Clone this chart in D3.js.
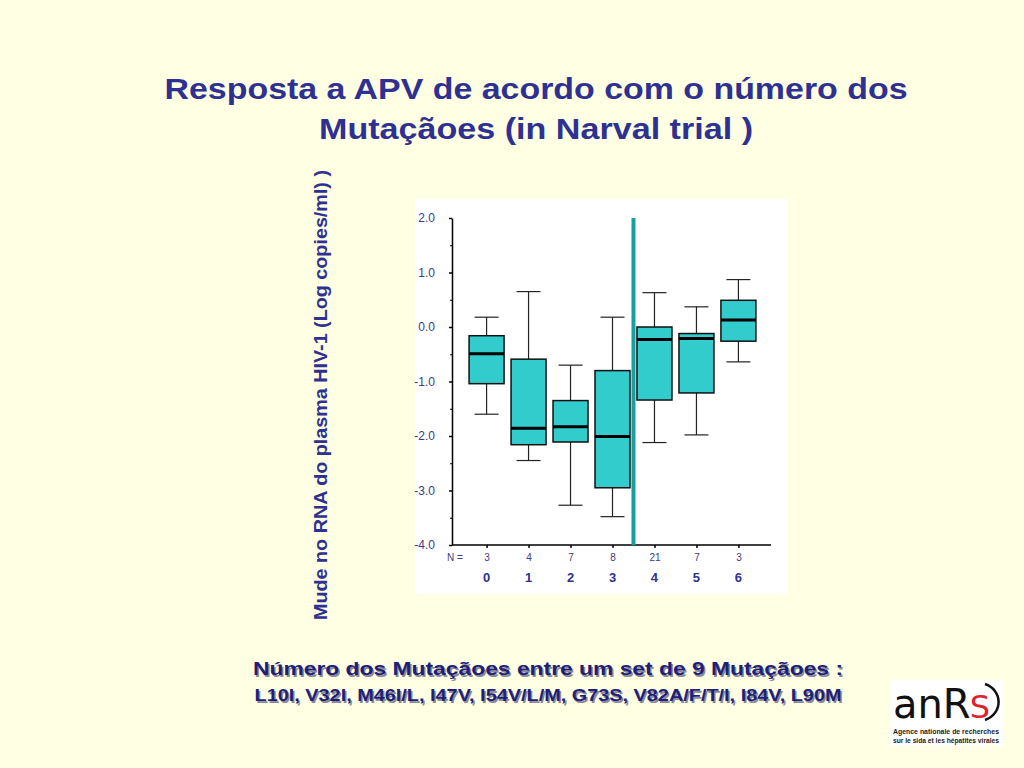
<!DOCTYPE html>
<html>
<head>
<meta charset="utf-8">
<script src="https://cdn.jsdelivr.net/npm/d3@7"></script>
<style>
  body { margin: 0; background: #ffffe3; }
  svg { display: block; font-family: Arial, "Liberation Sans", sans-serif; }
</style>
</head>
<body>
<svg width="1024" height="768"></svg>
<script>
// number of mutations (0..6) and box statistics
const categories = ["0", "1", "2", "3", "4", "5", "6"];
const nCounts = [3, 4, 7, 8, 21, 7, 3];
const whiskerHigh = [0.18, 0.65, -0.70, 0.18, 0.63, 0.37, 0.87];
const q3 = [-0.16, -0.59, -1.35, -0.80, 0.00, -0.12, 0.49];
const medians = [-0.49, -1.86, -1.83, -2.01, -0.23, -0.21, 0.13];
const q1 = [-1.04, -2.16, -2.11, -2.95, -1.34, -1.21, -0.26];
const whiskerLow = [-1.60, -2.45, -3.27, -3.48, -2.12, -1.98, -0.64];
const yTicks = [2, 1, 0, -1, -2, -3, -4];
const yMinorTicks = [1.5, 0.5, -0.5, -1.5, -2.5, -3.5];

const svg = d3.select("svg");
const navy = "#2e3192";
const tickColor = "#3b3b85";

const boxes = categories.map((c, i) => ({
  cat: c, n: nCounts[i], hi: whiskerHigh[i], q3: q3[i], med: medians[i], q1: q1[i], lo: whiskerLow[i]
}));

// title
const titleLines = [
  { text: "Resposta a APV de acordo com o número dos", y: 99, len: 743 },
  { text: "Mutaçãoes (in Narval trial )", y: 139, len: 434 }
];
svg.append("g").selectAll("text")
    .data(titleLines)
    .join("text")
    .attr("x", 536).attr("y", d => d.y)
    .attr("text-anchor", "middle")
    .attr("fill", navy)
    .attr("textLength", d => d.len)
    .attr("lengthAdjust", "spacingAndGlyphs")
    .style("font-size", "30px").style("font-weight", "bold")
    .text(d => d.text);

// white chart panel
svg.append("rect")
    .attr("x", 415).attr("y", 199).attr("width", 373).attr("height", 395)
    .attr("fill", "#ffffff");

const x = d3.scalePoint().domain(categories).range([453, 772]).padding(0.8);
const y = d3.scaleLinear().domain([-4, 2]).range([545, 218]);

// y axis
const yAxis = svg.append("g")
    .attr("transform", "translate(452,0)")
    .call(d3.axisLeft(y).tickValues(yTicks).tickSize(3).tickSizeOuter(0).tickPadding(14)
      .tickFormat(d => d.toFixed(1)));
yAxis.select(".domain").attr("stroke", "#000").attr("stroke-width", 1.5);
yAxis.selectAll(".tick line").attr("stroke", "#000").attr("stroke-width", 1.5);
yAxis.selectAll(".tick text").attr("fill", tickColor).style("font-size", "12px");

svg.append("g")
    .attr("transform", "translate(452,0)")
    .call(d3.axisLeft(y).tickValues(yMinorTicks).tickSize(2).tickSizeOuter(0).tickFormat(""))
    .call(g => g.select(".domain").remove())
    .selectAll(".tick line").attr("stroke", "#000");

// x axis with N counts
const xAxis = svg.append("g")
    .attr("transform", `translate(0,${y(-4)})`)
    .call(d3.axisBottom(x).tickSize(3).tickSizeOuter(0).tickPadding(6)
      .tickFormat((d, i) => nCounts[i]));
xAxis.select(".domain").attr("stroke", "#000").attr("stroke-width", 1.5).attr("d", `M452,0H771`);
xAxis.selectAll(".tick line").attr("stroke", "#000").attr("stroke-width", 1.5);
xAxis.selectAll(".tick text").attr("fill", tickColor).style("font-size", "10px");

svg.append("text")
    .attr("x", 455).attr("y", 561)
    .attr("text-anchor", "middle")
    .attr("fill", tickColor)
    .style("font-size", "10px")
    .text("N =");

svg.append("g").selectAll("text")
    .data(categories)
    .join("text")
    .attr("x", d => x(d))
    .attr("y", 582)
    .attr("text-anchor", "middle")
    .attr("fill", navy)
    .style("font-size", "13px").style("font-weight", "bold")
    .text(d => d);

// boxplots
const boxW = 35, capW = 24;
const bg = svg.append("g").selectAll("g")
    .data(boxes)
    .join("g");

bg.append("line")
    .attr("x1", d => x(d.cat)).attr("x2", d => x(d.cat))
    .attr("y1", d => y(d.hi)).attr("y2", d => y(d.lo))
    .attr("stroke", "#222").attr("stroke-width", 1.2);
bg.append("line")
    .attr("x1", d => x(d.cat) - capW / 2).attr("x2", d => x(d.cat) + capW / 2)
    .attr("y1", d => y(d.hi)).attr("y2", d => y(d.hi))
    .attr("stroke", "#222").attr("stroke-width", 1.2);
bg.append("line")
    .attr("x1", d => x(d.cat) - capW / 2).attr("x2", d => x(d.cat) + capW / 2)
    .attr("y1", d => y(d.lo)).attr("y2", d => y(d.lo))
    .attr("stroke", "#222").attr("stroke-width", 1.2);
bg.append("rect")
    .attr("x", d => x(d.cat) - boxW / 2)
    .attr("y", d => y(d.q3))
    .attr("width", boxW)
    .attr("height", d => y(d.q1) - y(d.q3))
    .attr("fill", "#33cccc")
    .attr("stroke", "#111").attr("stroke-width", 1.5);
bg.append("line")
    .attr("x1", d => x(d.cat) - boxW / 2).attr("x2", d => x(d.cat) + boxW / 2)
    .attr("y1", d => y(d.med)).attr("y2", d => y(d.med))
    .attr("stroke", "#000").attr("stroke-width", 3);

// separator between 3 and 4 mutations
const sepX = (x("3") + x("4")) / 2;
svg.append("line")
    .attr("x1", sepX).attr("x2", sepX)
    .attr("y1", y(2)).attr("y2", y(-4))
    .attr("stroke", "#16a0a0").attr("stroke-width", 4);

// y axis title
svg.append("text")
    .attr("transform", "translate(327,395) rotate(-90)")
    .attr("text-anchor", "middle")
    .attr("fill", navy)
    .attr("textLength", 450)
    .attr("lengthAdjust", "spacingAndGlyphs")
    .style("font-size", "18px").style("font-weight", "bold")
    .text("Mude no RNA do plasma HIV-1 (Log copies/ml) )");

// footnote with soft shadow
const foot = [
  { text: "Número dos Mutaçãoes entre um set de 9 Mutaçãoes :", y: 675, size: 18, len: 590 },
  { text: "L10I, V32I, M46I/L, I47V, I54V/L/M, G73S, V82A/F/T/I, I84V, L90M", y: 701, size: 16, len: 587 }
];
[["#8a8a9a", 1.5], ["#1f1f78", 0]].forEach(([col, off]) => {
  svg.append("g").selectAll("text")
    .data(foot)
    .join("text")
    .attr("x", d => 548 + off).attr("y", d => d.y + off)
    .attr("text-anchor", "middle")
    .attr("fill", col)
    .attr("textLength", d => d.len)
    .attr("lengthAdjust", "spacingAndGlyphs")
    .style("font-size", d => d.size + "px").style("font-weight", "bold")
    .text(d => d.text);
});

// ANRS logo
const logo = svg.append("g").attr("transform", "translate(890,680)");
logo.append("rect").attr("width", 113).attr("height", 66).attr("fill", "#fff");
const word = logo.append("text").attr("x", 3).attr("y", 38)
    .style("font-family", "'DejaVu Sans', sans-serif").style("font-size", "40px");
word.append("tspan").attr("fill", "#111").text("anR");
word.append("tspan").attr("fill", "#e0202a").attr("dx", -1).style("font-size", "32px").text("S");
logo.append("path")
    .attr("d", "M95,4 A20,19 0 0 1 95,40")
    .attr("fill", "none").attr("stroke", "#111").attr("stroke-width", 2.5);
logo.append("text").attr("x", 3).attr("y", 54)
    .attr("fill", "#222")
    .attr("textLength", 106).attr("lengthAdjust", "spacingAndGlyphs")
    .style("font-size", "7.5px").style("font-weight", "bold")
    .text("Agence nationale de recherches");
logo.append("text").attr("x", 3).attr("y", 63)
    .attr("fill", "#222")
    .attr("textLength", 106).attr("lengthAdjust", "spacingAndGlyphs")
    .style("font-size", "7.5px").style("font-weight", "bold")
    .text("sur le sida et les hépatites virales");
</script>
</body>
</html>
